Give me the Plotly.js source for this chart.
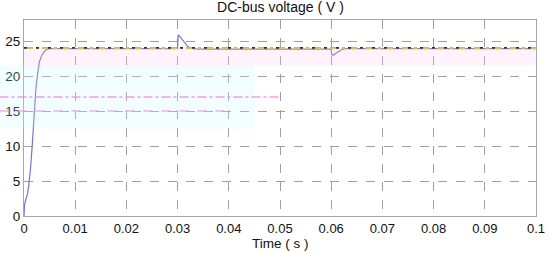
<!DOCTYPE html>
<html>
<head>
<meta charset="utf-8">
<script src="https://cdn.plot.ly/plotly-3.0.1.min.js"></script>
<style>
  html, body { margin: 0; padding: 0; background: #fff; }
  #chart { width: 550px; height: 253px; }
</style>
</head>
<body>
<div id="chart"></div>
<script>
// DC-bus voltage
var timeS = [0, 0.0001, 0.0003, 0.0005, 0.0007, 0.0009, 0.0011, 0.0013, 0.0016, 0.0018, 0.002, 0.0023, 0.0026, 0.003, 0.0035, 0.004, 0.0045, 0.005,
             0.03, 0.0301, 0.0305, 0.031, 0.0315, 0.032, 0.0325, 0.033, 0.034,
             0.06, 0.0601, 0.0605, 0.061, 0.0615, 0.062, 0.0627, 0.064, 0.1];
var voltage = [0, 1.6, 2.2, 2.6, 3.2, 4.2, 5.5, 7, 10, 12.5, 15, 18, 20, 22, 23, 23.5, 23.8, 23.9,
               23.9, 25.9, 25.6, 25.1, 24.6, 24.2, 24.0, 23.9, 23.85,
               23.85, 23.05, 23.0, 23.3, 23.55, 23.75, 23.9, 23.9, 23.9];

// reference level
var refTime = [0, 0.1];
var refVolt = [24, 24];

// faint overlay lines / bands seen in the picture
var pinkDashDotY = 17, pinkDashDotEnd = 0.05;
var pinkDashY = 15, pinkDashEnd = 0.04;
var pinkBand = [21.5, 24];
var cyanBand = [12.5, 21.5], cyanEnd = 0.045;

var xTicks = [0, 0.01, 0.02, 0.03, 0.04, 0.05, 0.06, 0.07, 0.08, 0.09, 0.1];
var xTickText = ['0', '0.01', '0.02', '0.03', '0.04', '0.05', '0.06', '0.07', '0.08', '0.09', '0.1'];
var yTicks = [0, 5, 10, 15, 20, 25];
var xMax = 0.1, yMax = 28;

var leftOut = -0.048; // overlays start at the picture's left edge

var data = [
  {
    x: timeS, y: voltage, type: 'scatter', mode: 'lines',
    line: {color: '#7b6fe0', width: 1.2}
  },
  {
    x: refTime, y: refVolt, type: 'scatter', mode: 'lines',
    line: {color: '#d4c020', width: 2, dash: 'dashdot'}, hoverinfo: 'skip'
  },
  {
    x: refTime, y: refVolt, type: 'scatter', mode: 'lines',
    line: {color: '#3a3020', width: 2, dash: '3px,9px'}, hoverinfo: 'skip'
  }
];

var layout = {
  width: 550, height: 253,
  margin: {l: 24, r: 14, t: 20, b: 37},
  paper_bgcolor: '#ffffff', plot_bgcolor: '#ffffff',
  showlegend: false,
  font: {family: 'Liberation Sans, Arial, sans-serif', size: 14, color: '#111'},
  title: {text: 'DC-bus voltage ( V )', x: 0.51, xanchor: 'center', y: 0.99, yanchor: 'top',
          font: {size: 14, color: '#111'}},
  xaxis: {
    range: [0, xMax], tickvals: xTicks, ticktext: xTickText,
    tickfont: {size: 13},
    showgrid: true, gridcolor: '#a0a0a0', griddash: 'dash', gridwidth: 1,
    zeroline: false, showline: true, linecolor: '#a8a8a8', mirror: true,
    ticks: '', ticklen: 0
  },
  yaxis: {
    range: [0, yMax], tickvals: yTicks,
    tickfont: {size: 13.5},
    showgrid: true, gridcolor: '#a0a0a0', griddash: 'dash', gridwidth: 1,
    zeroline: false, showline: true, linecolor: '#a8a8a8', mirror: true,
    ticks: '', ticklen: 0
  },
  annotations: [
    {text: 'Time ( s )', xref: 'paper', yref: 'paper', x: 0.5, y: -0.184,
     xanchor: 'center', yanchor: 'bottom', showarrow: false, borderpad: 0,
     font: {size: 13.5, color: '#111'}}
  ],
  shapes: [
    {type: 'rect', xref: 'x', yref: 'y', x0: 0, x1: xMax, y0: pinkBand[0], y1: pinkBand[1],
     fillcolor: 'rgba(250,200,240,0.22)', line: {width: 0}, layer: 'above'},
    {type: 'rect', xref: 'paper', yref: 'paper', x0: leftOut, x1: cyanEnd / xMax,
     y0: cyanBand[0] / yMax, y1: cyanBand[1] / yMax,
     fillcolor: 'rgba(190,245,250,0.22)', line: {width: 0}, layer: 'above'},
    {type: 'line', xref: 'paper', yref: 'paper', x0: leftOut, x1: pinkDashDotEnd / xMax,
     y0: pinkDashDotY / yMax, y1: pinkDashDotY / yMax,
     line: {color: 'rgba(255,120,230,0.75)', width: 1.5, dash: 'dashdot'}, layer: 'above'},
    {type: 'line', xref: 'paper', yref: 'paper', x0: leftOut, x1: pinkDashEnd / xMax,
     y0: pinkDashY / yMax, y1: pinkDashY / yMax,
     line: {color: 'rgba(255,140,220,0.75)', width: 1.5, dash: 'dash'}, layer: 'above'}
  ]
};

Plotly.newPlot('chart', data, layout, {displayModeBar: false, staticPlot: true});
</script>
</body>
</html>
